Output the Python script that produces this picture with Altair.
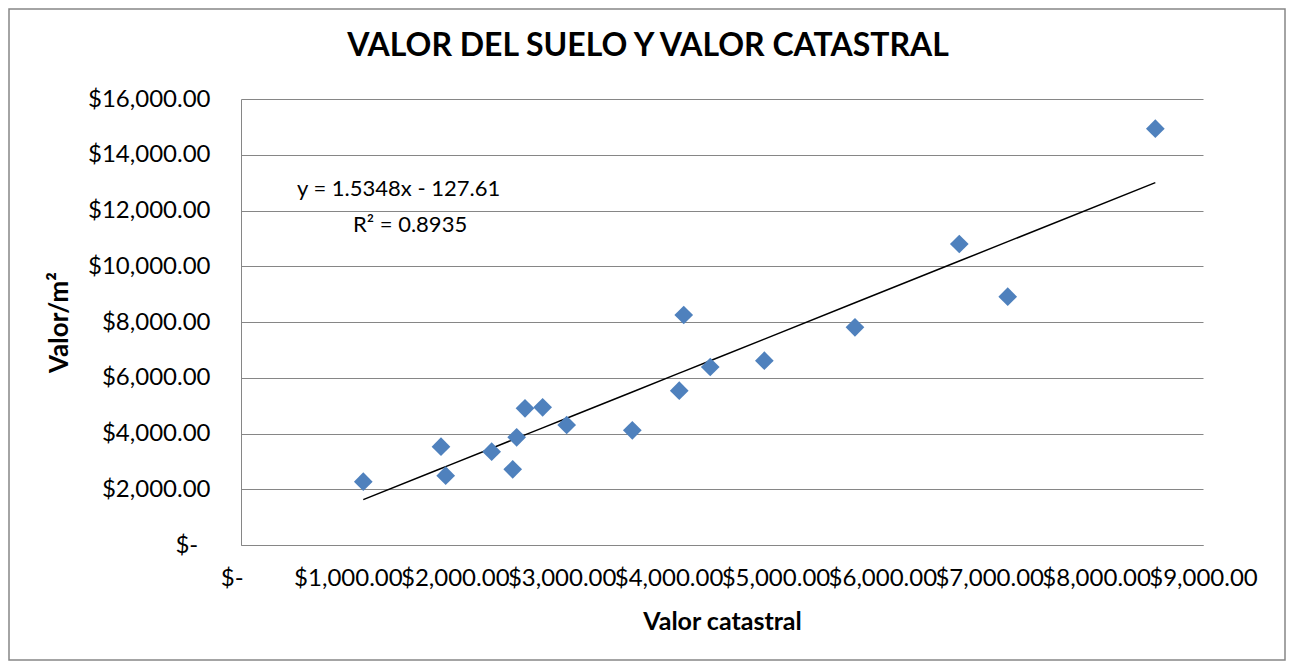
import altair as alt
import pandas as pd

# Data
valor_catastral = [1144, 1871, 1915, 2345, 2542, 2579, 2657, 2822, 3047,
                   3661, 4100, 4142, 4390, 4896, 5744, 6720, 7173, 8554]
valor_m2 = [2271, 3527, 2486, 3347, 2716, 3864, 4904, 4940, 4305,
            4115, 5536, 8251, 6386, 6612, 7810, 10798, 8908, 14935]

x_ticks = [0, 1000, 2000, 3000, 4000, 5000, 6000, 7000, 8000, 9000]
y_ticks = [0, 2000, 4000, 6000, 8000, 10000, 12000, 14000, 16000]

slope = 1.5348
intercept = -127.61
eq_line1 = "y = 1.5348x - 127.61"
eq_line2 = "R\u00b2 = 0.8935"
chart_title = "VALOR DEL SUELO Y VALOR CATASTRAL"

df = pd.DataFrame({"catastral": valor_catastral, "valor": valor_m2})

FONT = "Lato"
GRID = "#868686"
W, H = 962, 446
PAD = {"left": 233, "top": 91, "right": 83, "bottom": 116}

NB = "\u00a0"
ZW = "\u200b"
x_labels = f"datum.value == 0 ? '$-{NB*3}{ZW}' : '$' + format(datum.value, ',.2f')"
y_labels = f"datum.value == 0 ? '$-{NB*2}{ZW}' : '$' + format(datum.value, ',.2f')"

x_enc = alt.X(
    "catastral:Q",
    scale=alt.Scale(domain=[0, 9000], nice=False, zero=True),
    axis=alt.Axis(
        title="Valor catastral",
        values=x_ticks,
        labelExpr=x_labels,
        grid=False,
        ticks=False,
        domain=True,
        domainColor=GRID,
        domainWidth=1,
        labelOverlap=False,
        labelFlush=False,
        labelPadding=21,
        labelFont=FONT,
        labelFontSize=24,
        labelColor="#000000",
        titleFont=FONT,
        titleFontSize=25,
        titleFontWeight="bold",
        titleColor="#000000",
        titleY=84,
        titleBaseline="alphabetic",
    ),
)
y_enc = alt.Y(
    "valor:Q",
    scale=alt.Scale(domain=[0, 16000], nice=False),
    axis=alt.Axis(
        title="Valor/m\u00b2",
        values=y_ticks,
        labelExpr=y_labels,
        grid=True,
        gridColor=GRID,
        gridWidth=1,
        ticks=False,
        domain=True,
        domainColor=GRID,
        domainWidth=1,
        labelOverlap=False,
        labelFlush=False,
        labelPadding=31,
        labelFont=FONT,
        labelFontSize=24,
        labelColor="#000000",
        titleFont=FONT,
        titleFontSize=26,
        titleFontWeight="bold",
        titleColor="#000000",
        titleX=-169,
        titleY=H / 2,
        titleBaseline="bottom",
        titleAngle=270,
    ),
)

points = alt.Chart(df).mark_point(
    shape="diamond", filled=True, size=350, color="#4f81bd", opacity=1
).encode(x=x_enc, y=y_enc)

trend = alt.Chart(df).transform_calculate(
    trend=f"{slope} * datum.catastral + ({intercept})"
).mark_line(color="#000000", strokeWidth=1.5).encode(
    x=alt.X("catastral:Q", sort="ascending"),
    y="trend:Q",
)

one = pd.DataFrame({"t": [0]})

eq1 = alt.Chart(one).mark_text(
    align="left", baseline="alphabetic", font=FONT, fontSize=22, color="#000000"
).encode(x=alt.value(56), y=alt.value(97), text=alt.value(eq_line1))

eq2 = alt.Chart(one).mark_text(
    align="left", baseline="alphabetic", font=FONT, fontSize=22, color="#000000"
).encode(x=alt.value(112), y=alt.value(133), text=alt.value(eq_line2))

title = alt.Chart(one).mark_text(
    align="center", baseline="alphabetic", font=FONT, fontSize=32,
    fontWeight="bold", color="#000000"
).encode(x=alt.value(407), y=alt.value(-43), text=alt.value(chart_title))

border = alt.Chart(one).mark_rect(
    fill=None, stroke=GRID, strokeWidth=1.5
).encode(
    x=alt.value(-PAD["left"] + 1),
    x2=alt.value(W + PAD["right"] - 1),
    y=alt.value(-PAD["top"] + 1),
    y2=alt.value(H + PAD["bottom"] - 1),
)

chart = alt.layer(border, trend, points, eq1, eq2, title).properties(
    width=W,
    height=H,
    padding=PAD,
    autosize=alt.AutoSizeParams(type="none"),
    background="#ffffff",
).configure_view(stroke=None)

chart.save("out.html", embed_options={"renderer": "svg", "actions": False})
